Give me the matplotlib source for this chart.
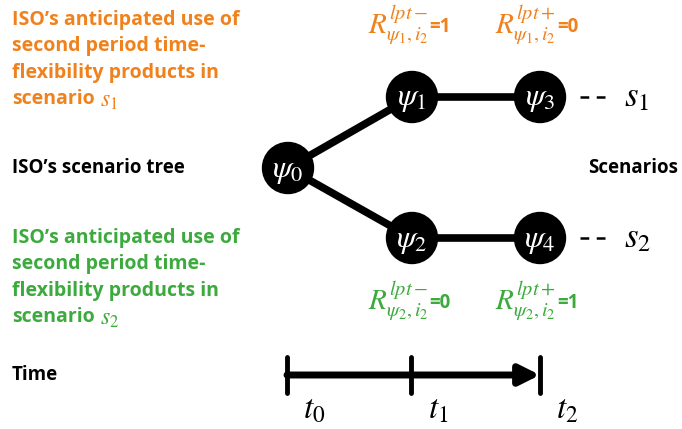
import matplotlib
matplotlib.use('Agg')
import matplotlib.pyplot as plt
from matplotlib.patches import Circle

plt.rcParams['mathtext.fontset'] = 'stix'
plt.rcParams['font.family'] = ['Open Sans', 'DejaVu Sans']

# scenario tree nodes (pixel-ish layout units)
node_names = ['0', '1', '2', '3', '4']
node_x = [288, 412, 412, 540, 540]
node_y = [168, 97, 238, 97, 238]
edges = [(0, 1), (0, 2), (1, 3), (2, 4)]

# time axis
time_labels = ['t_0', 't_1', 't_2']
time_x = [287, 411, 540]

# anticipated product use per scenario
r_minus = [1, 0]
r_plus = [0, 1]
scen_colors = ['#F0821E', '#3DAA3D']

fig = plt.figure(figsize=(6.82, 4.29), dpi=100)
ax = fig.add_axes([0, 0, 1, 1])
ax.set_xlim(0, 682)
ax.set_ylim(429, 0)
ax.axis('off')
renderer = fig.canvas.get_renderer()


def right_edge(t):
    bb = t.get_window_extent(renderer)
    return ax.transData.inverted().transform((bb.x1, bb.y0))[0]


for a, b in edges:
    ax.plot([node_x[a], node_x[b]], [node_y[a], node_y[b]], color='black', lw=5.5,
            solid_capstyle='butt', zorder=1)
for i, n in enumerate(node_names):
    ax.add_patch(Circle((node_x[i], node_y[i]), 25.5, color='black', zorder=2))
    ax.text(node_x[i], node_y[i] + 1, r'$\psi_%s$' % n, color='white', fontsize=23,
            ha='center', va='center', zorder=3)

# scenario labels
for k, y in enumerate([97, 238]):
    ax.plot([580, 605], [y, y], color='black', lw=1.8, ls=(0, (3.5, 3)))
    ax.text(624, y, r'$s_%d$' % (k + 1), fontsize=25, va='center', ha='left')
ax.text(633, 168, 'Scenarios', fontsize=13.5, fontweight='bold', ha='center', va='center')
ax.text(12, 168, 'ISO\u2019s scenario tree', fontsize=13.5, fontweight='bold', va='center')

# descriptive text blocks
desc = ['ISO\u2019s anticipated use of', 'second period time-',
        'flexibility products in', 'scenario']
for k, y0 in enumerate([20, 238]):
    for j, line in enumerate(desc):
        t = ax.text(12, y0 + j * 26.5, line, color=scen_colors[k], fontsize=14,
                    fontweight='bold', va='center', ha='left')
    ax.text(right_edge(t) + 5, y0 + 3 * 26.5 + 1, r'$s_%d$' % (k + 1),
            color=scen_colors[k], fontsize=17, va='center', ha='left')


def r_label(x, y, sign, k, val):
    t = ax.text(x, y, r'$R^{lpt%s}_{\psi_%d,i_2}$' % (sign, k + 1), color=scen_colors[k],
                fontsize=21, va='center', ha='left')
    ax.text(right_edge(t) + 1, y + 2, '=%d' % val, color=scen_colors[k], fontsize=13.5,
            fontweight='bold', va='center', ha='left')


for k, y in enumerate([25, 301]):
    r_label(368, y, '-', k, r_minus[k])
    r_label(495, y, '+', k, r_plus[k])

# time axis
ty = 375
ax.annotate('', xy=(time_x[-1], ty), xytext=(time_x[0], ty),
            arrowprops=dict(arrowstyle='-|>,head_length=1.2,head_width=0.6',
                            color='black', lw=5, shrinkA=0, shrinkB=0))
for x in time_x:
    ax.plot([x, x], [357, 393], color='black', lw=3.5, solid_capstyle='round')
for x, lab in zip(time_x, time_labels):
    ax.text(x + 27, 410, r'$%s$' % lab, fontsize=24, ha='center', va='center')
ax.text(12, 375, 'Time', fontsize=13.5, fontweight='bold', va='center')

fig.savefig('out.png', dpi=100)
